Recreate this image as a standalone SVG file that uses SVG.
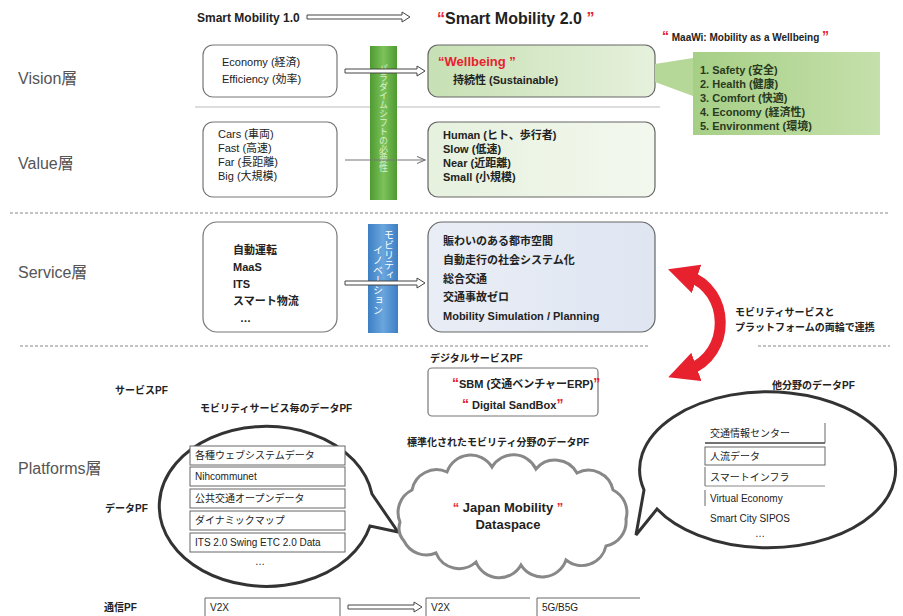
<svg xmlns="http://www.w3.org/2000/svg" width="903" height="616" viewBox="0 0 903 616">
<defs>
<style>
text{font-family:"Liberation Sans","Noto Sans CJK JP",sans-serif;fill:#222}
.layer{font-size:16px;fill:#555}
.t{font-size:11px}
.tb{font-size:11px;font-weight:bold}
.lbl{font-size:10px;font-weight:bold}
.q{fill:#e8212e;font-weight:bold}
.box{fill:#fff;stroke:#777;stroke-width:1.2}
.dash{stroke:#888;stroke-width:1.2;stroke-dasharray:3 2;fill:none}
.dbl{fill:#fff;stroke:#444;stroke-width:1}
.row{fill:#fff;stroke:#666;stroke-width:1}
.bub{fill:#fff;stroke:#333;stroke-width:3}
</style>
<linearGradient id="gbar" x1="0" y1="0" x2="1" y2="0"><stop offset="0" stop-color="#4e9a31"/><stop offset="0.5" stop-color="#7cc25a"/><stop offset="1" stop-color="#4e9a31"/></linearGradient>
<linearGradient id="bbar" x1="0" y1="0" x2="1" y2="0"><stop offset="0" stop-color="#3d7fc4"/><stop offset="0.5" stop-color="#6aa6de"/><stop offset="1" stop-color="#3d7fc4"/></linearGradient>
<linearGradient id="gvis" x1="0" y1="0" x2="1" y2="0"><stop offset="0" stop-color="#c7e0b4"/><stop offset="1" stop-color="#e6f1dc"/></linearGradient>
<linearGradient id="gmaa" x1="0" y1="0" x2="1" y2="0"><stop offset="0" stop-color="#a6cf86"/><stop offset="1" stop-color="#c5e0ab"/></linearGradient>
<linearGradient id="gval" x1="0" y1="0" x2="1" y2="0"><stop offset="0" stop-color="#e6f1de"/><stop offset="1" stop-color="#f3f8ee"/></linearGradient>
<linearGradient id="gsvc" x1="0" y1="0" x2="1" y2="0"><stop offset="0" stop-color="#e9edf5"/><stop offset="1" stop-color="#dfe6f2"/></linearGradient>
<marker id="rh" viewBox="0 0 10 10" refX="3" refY="5" markerWidth="30" markerHeight="30" markerUnits="userSpaceOnUse" orient="auto-start-reverse"><path d="M0,0 L10,5 L0,10 z" fill="#e8212e"/></marker>
<marker id="ah" viewBox="0 0 10 10" refX="9" refY="5" markerWidth="9" markerHeight="9" markerUnits="userSpaceOnUse" orient="auto"><path d="M0,1 L9,5 L0,9" fill="none" stroke="#777" stroke-width="1.2"/></marker>
</defs>
<rect width="903" height="616" fill="#fff"/>

<!-- title -->
<g id="title">
<text x="197" y="22" font-size="12" font-weight="bold">Smart Mobility  1.0</text>
<text x="437" y="24" font-size="16" font-weight="bold"><tspan class="q">“</tspan>Smart Mobility 2.0 <tspan class="q">”</tspan></text>
</g>

<!-- layer labels -->
<g id="layers">
<text class="layer" x="18" y="84">Vision層</text>
<text class="layer" x="18" y="169">Value層</text>
<text class="layer" x="18" y="278">Service層</text>
<text class="layer" x="18" y="474">Platforms層</text>
</g>

<!-- separators -->
<g id="separators">
<line x1="195" y1="107" x2="660" y2="107" stroke="#bbb" stroke-width="1.2"/>
<line class="dash" x1="10" y1="213" x2="890" y2="213"/>
<line class="dash" x1="20" y1="346" x2="650" y2="346"/>
<line class="dash" x1="758" y1="346" x2="890" y2="346"/>
</g>

<!-- Vision -->
<g id="vision-left">
<rect class="box" x="203" y="45" width="134" height="52" rx="10"/>
<text class="t" x="222" y="66">Economy (経済)</text>
<text class="t" x="222" y="83">Efficiency (効率)</text>
</g>
<g id="vision-right">
<rect x="428" y="45" width="227" height="52" rx="10" fill="url(#gvis)" stroke="#666" stroke-width="1.2"/>
<text x="438" y="66" font-size="13" font-weight="bold" style="fill:#e8212e">“Wellbeing ”</text>
<text class="tb" x="453" y="84">持続性 (Sustainable)</text>
</g>
<g id="maawi">
<text x="662" y="41" font-size="10" font-weight="bold"><tspan class="q" font-size="14">“</tspan> MaaWi: Mobility as a Wellbeing <tspan class="q" font-size="14">”</tspan></text>
<path d="M655,64 L693,58 L693,96 L655,82 z" fill="#b5d797"/>
<rect x="693" y="52" width="187" height="83" fill="url(#gmaa)"/>
<text class="t" x="700" y="74" font-weight="bold" style="fill:#2a3a20">1. Safety (安全)</text>
<text class="t" x="700" y="88" font-weight="bold" style="fill:#2a3a20">2. Health (健康)</text>
<text class="t" x="700" y="102" font-weight="bold" style="fill:#2a3a20">3. Comfort (快適)</text>
<text class="t" x="700" y="116" font-weight="bold" style="fill:#2a3a20">4. Economy (経済性)</text>
<text class="t" x="700" y="130" font-weight="bold" style="fill:#2a3a20">5. Environment (環境)</text>
</g>

<!-- Value -->
<g id="value-left">
<rect class="box" x="203" y="122" width="134" height="75" rx="10"/>
<text class="t" x="218" y="138">Cars (車両)</text>
<text class="t" x="218" y="152">Fast (高速)</text>
<text class="t" x="218" y="166">Far (長距離)</text>
<text class="t" x="218" y="180">Big (大規模)</text>
</g>
<g id="value-right">
<rect x="428" y="122" width="227" height="75" rx="10" fill="url(#gval)" stroke="#666" stroke-width="1.2"/>
<text class="tb" x="443" y="139">Human (ヒト、歩行者)</text>
<text class="tb" x="443" y="153">Slow (低速)</text>
<text class="tb" x="443" y="167">Near (近距離)</text>
<text class="tb" x="443" y="181">Small (小規模)</text>
</g>
<g id="green-bar">
<rect x="370" y="46" width="27" height="154" fill="url(#gbar)"/>
<text x="383" y="64" font-size="9" style="fill:#d9efcc;writing-mode:tb" writing-mode="tb">パラダイムシフトの必要性</text>
</g>

<!-- Service -->
<g id="service-left">
<rect class="box" x="203" y="222" width="134" height="110" rx="14"/>
<text class="tb" x="233" y="254">自動運転</text>
<text class="tb" x="233" y="271">MaaS</text>
<text class="tb" x="233" y="288">ITS</text>
<text class="tb" x="233" y="305">スマート物流</text>
<text class="tb" x="240" y="322">…</text>
</g>
<g id="blue-bar">
<rect x="368" y="224" width="30" height="109" fill="url(#bbar)"/>
<text x="388" y="230" font-size="10" style="fill:#fff;writing-mode:tb" writing-mode="tb">モビリティ</text>
<text x="377" y="245" font-size="10" style="fill:#fff;writing-mode:tb" writing-mode="tb">イノベーション</text>
</g>
<g id="service-right">
<rect x="428" y="222" width="227" height="110" rx="14" fill="url(#gsvc)" stroke="#666" stroke-width="1.2"/>
<text class="tb" x="443" y="245">賑わいのある都市空間</text>
<text class="tb" x="443" y="264">自動走行の社会システム化</text>
<text class="tb" x="443" y="283">総合交通</text>
<text class="tb" x="443" y="301">交通事故ゼロ</text>
<text class="tb" x="443" y="320">Mobility Simulation / Planning</text>
</g>

<!-- connectors -->
<g id="connectors">
<path class="dbl" d="M307,15 L402,15 L402,12 L410,17 L402,22 L402,19 L307,19 z"/>
<path class="dbl" d="M345,69 L417,69 L417,66 L425,71 L417,76 L417,73 L345,73 z"/>
<line x1="345" y1="160" x2="425" y2="160" stroke="#777" stroke-width="1.2" marker-end="url(#ah)"/>
<path class="dbl" d="M345,281 L417,281 L417,278 L425,283 L417,288 L417,285 L345,285 z"/>
<path class="dbl" d="M348,605 L414,605 L414,602 L422,607 L414,612 L414,609 L348,609 z"/>
<path d="M688,276 C730,290 732,354 688,370" fill="none" stroke="#e8212e" stroke-width="11" marker-start="url(#rh)" marker-end="url(#rh)"/>
</g>
<g id="link-label">
<text class="lbl" x="735" y="316">モビリティサービスと</text>
<text class="lbl" x="735" y="331">プラットフォームの両輪で連携</text>
</g>

<!-- Platforms -->
<g id="pf-labels">
<text class="lbl" x="430" y="362">デジタルサービスPF</text>
<text class="lbl" x="115" y="394">サービスPF</text>
<text class="lbl" x="200" y="412">モビリティサービス毎のデータPF</text>
<text class="lbl" x="407" y="446">標準化されたモビリティ分野のデータPF</text>
<text class="lbl" x="772" y="389">他分野のデータPF</text>
<text class="lbl" x="105" y="512">データPF</text>
<text class="lbl" x="104" y="611">通信PF</text>
</g>
<g id="digital-service">
<rect class="box" x="428" y="368" width="170" height="48" rx="4"/>
<text x="452" y="388" font-size="11" font-weight="bold"><tspan class="q" font-size="14">“</tspan>SBM (交通ベンチャーERP)<tspan class="q" font-size="14">”</tspan></text>
<text x="462" y="409" font-size="11" font-weight="bold"><tspan class="q" font-size="14">“</tspan> Digital SandBox<tspan class="q" font-size="14">”</tspan></text>
</g>

<g id="left-bubble">
<path class="bub" d="M372,494 A107 80 0 1 0 370,526 L398,532 Z"/>
<rect class="row" x="190" y="446" width="155" height="19"/>
<rect class="row" x="190" y="467" width="155" height="19"/>
<rect class="row" x="190" y="489" width="155" height="19"/>
<rect class="row" x="190" y="511" width="155" height="19"/>
<rect class="row" x="190" y="533" width="155" height="19"/>
<text x="195" y="459" font-size="10">各種ウェブシステムデータ</text>
<text x="195" y="480" font-size="10">Nihcommunet</text>
<text x="195" y="502" font-size="10">公共交通オープンデータ</text>
<text x="195" y="524" font-size="10">ダイナミックマップ</text>
<text x="195" y="546" font-size="10">ITS 2.0 Swing ETC 2.0 Data</text>
<text x="255" y="565" font-size="10">…</text>
</g>

<g id="cloud">
<path d="M400,522 A25 25 0 0 1 412,490 A25 25 0 0 1 447,472 A25 25 0 0 1 492,467 A25 25 0 0 1 536,469 A25 25 0 0 1 577,473 A25 25 0 0 1 613,490 A25 25 0 0 1 626,519 A25 25 0 0 1 606,546 A25 25 0 0 1 566,560 A25 25 0 0 1 521,565 A25 25 0 0 1 476,562 A25 25 0 0 1 436,553 A25 25 0 0 1 404,541 A20 20 0 0 1 400,522 z" fill="#fff" stroke="#888" stroke-width="3"/>
<text x="508" y="512" font-size="13" font-weight="bold" text-anchor="middle"><tspan class="q">“</tspan> Japan Mobility <tspan class="q">”</tspan></text>
<text x="508" y="529" font-size="13" font-weight="bold" text-anchor="middle">Dataspace</text>
</g>

<g id="right-bubble">
<path class="bub" d="M644,490 A128 78 0 1 1 657,509 L636,535 Z"/>
<line x1="705" y1="443" x2="825" y2="443" stroke="#444" stroke-width="1.5"/>
<line x1="825" y1="423" x2="825" y2="443" stroke="#666"/>
<rect class="row" x="705" y="447" width="120" height="18"/>
<line x1="705" y1="467" x2="705" y2="486" stroke="#666"/>
<line x1="705" y1="486" x2="825" y2="486" stroke="#888"/>
<line x1="705" y1="490" x2="705" y2="506" stroke="#666"/>
<text x="710" y="437" font-size="10">交通情報センター</text>
<text x="710" y="460" font-size="10">人流データ</text>
<text x="710" y="481" font-size="10">スマートインフラ</text>
<text x="710" y="502" font-size="10">Virtual Economy</text>
<text x="710" y="522" font-size="10">Smart City SIPOS</text>
<text x="755" y="537" font-size="10">…</text>
</g>

<g id="comm">
<path d="M205,616 L205,598 L340,598 L340,616" fill="none" stroke="#666"/>
<text x="210" y="611" font-size="10">V2X</text>
<path d="M426,616 L426,598 L530,598" fill="none" stroke="#666"/>
<text x="431" y="611" font-size="10">V2X</text>
<path d="M537,616 L537,598 L640,598" fill="none" stroke="#666"/>
<text x="542" y="611" font-size="10">5G/B5G</text>
</g>
</svg>
